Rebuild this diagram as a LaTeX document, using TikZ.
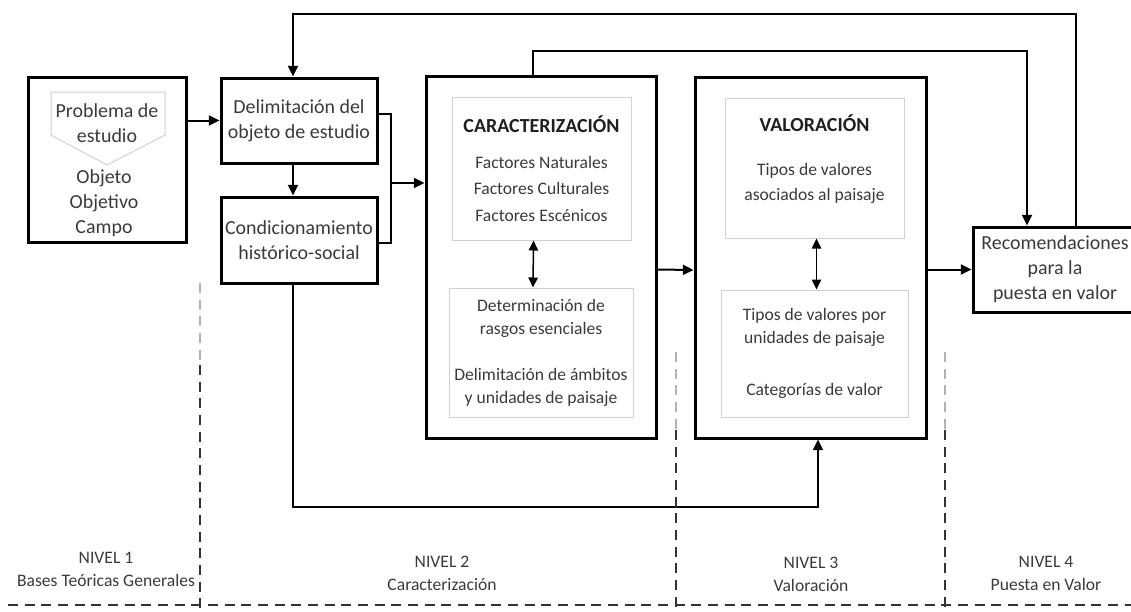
\documentclass[tikz,border=0pt]{standalone}
\usepackage{fontspec}
\setmainfont{Carlito}
\usetikzlibrary{arrows.meta,positioning,calc}
\definecolor{myText}{RGB}{58,58,58}
\definecolor{myFrame}{RGB}{208,208,208}
\newcommand{\boxhead}[1]{{\fontsize{17}{21.3}\selectfont\bfseries\color{black!88}#1}}
\tikzset{
	otext/.style={
		align=center,
		inner sep=0pt,
		text=myText,
		font=\fontsize{17}{21.3}\selectfont
	},
	obox/.style={otext, draw=black, line width=0.09cm},
	ibox/.style={
		draw=myFrame,
		line width=0.03cm,
		align=center,
		inner sep=0pt,
		text=myText,
		font=\fontsize{15}{19.6}\selectfont
	},
	level/.style={align=center, text=myText, font=\fontsize{15}{19.6}\selectfont},
	oline/.style={line width=0.06cm},
	oarr/.style={-{Triangle[length=0.32cm,width=0.3cm]}, line width=0.06cm},
	darr/.style={{Triangle[length=0.3cm,width=0.28cm]}-{Triangle[length=0.3cm,width=0.28cm]}, line width=0.045cm},
	divider/.style={dash pattern=on 0.3cm off 0.2cm, line width=0.06cm}
}
\begin{document}
\begin{tikzpicture}[x=0.03cm, y=-0.03cm]
		\useasboundingbox (0,0) rectangle (1131,611);
		% nivel 1
		\node[obox, minimum width=4.71cm, minimum height=4.95cm] (A) at (107.5,159.5) {};
		\draw[myFrame, line width=0.03cm] (51,92) -- (165,92) -- (165,135) -- (107,165) -- (51,135) -- cycle;
		\node[otext] (prob) at (107,123) {Problema de\\estudio};
		\node[otext] (obj) at (104,203) {Objeto\\Objetivo\\Campo};
		% nivel 2
		\node[obox, minimum width=4.68cm, minimum height=2.55cm] (B) at (299,120.5)
			{Delimitación del\\objeto de estudio};
		\node[obox, minimum width=4.68cm, minimum height=2.58cm] (C) at (299,240)
			{Condicionamiento\\histórico-social};
		\node[obox, minimum width=6.9cm, minimum height=10.83cm] (CAR) at (541,257.5) {};
		\node[ibox, minimum width=5.37cm, minimum height=4.29cm, font=\fontsize{15}{22.6}\selectfont] (CAR1) at (541.5,168.5)
			{\boxhead{CARACTERIZACIÓN}\\[0.285cm]Factores Naturales\\Factores Culturales\\Factores Escénicos};
		\node[ibox, minimum width=5.52cm, minimum height=3.87cm] (CAR2) at (541,352.5)
			{Determinación de\\rasgos esenciales\\[0.69cm]Delimitación de ámbitos\\y unidades de paisaje};
		% nivel 3
		\node[obox, minimum width=6.93cm, minimum height=10.8cm] (VAL) at (810.5,258) {};
		\node[ibox, minimum width=5.37cm, minimum height=4.2cm, font=\fontsize{15}{21.3}\selectfont] (VAL1) at (814.5,168)
			{\boxhead{VALORACIÓN}\\[0.57cm]Tipos de valores\\asociados al paisaje\\[-0.12cm]\mbox{}};
		\node[ibox, minimum width=5.61cm, minimum height=3.81cm] (VAL2) at (814.5,353.5)
			{Tipos de valores por\\unidades de paisaje\\[0.87cm]Categorías de valor};
		% nivel 4
		\node[obox, minimum width=4.92cm, minimum height=2.55cm] (REC) at (1055,269.5)
			{Recomendaciones\\para la\\puesta en valor};
		% conectores
		\coordinate (bx) at (293,0);
		\coordinate (brk) at (391,183);
		\coordinate (fb1) at (1076,14);
		\coordinate (fb2) at (533,51);
		\coordinate (fb2e) at (1027,51);
		\coordinate (fb3) at (818,507);
		\draw[oarr] (A.east |- B.west) -- (B.west);
		\draw[oarr] (bx |- B.south) -- (bx |- C.north);
		\draw[oline] ($(B.east)+(0,-7)$) -| (brk) |- ($(C.east)+(0,3)$);
		\draw[oarr] (brk) -- (brk -| CAR.west);
		\draw[darr] ($(CAR1.south)+(-8,0)$) -- ($(CAR2.north)+(-8,0)$);
		\draw[oarr] ($(CAR.east)+(0,12)$) -- ($(VAL.west)+(0,12)$);
		\draw[darr] ($(VAL1.south)+(2,0)$) -- ($(VAL2.north)+(2,0)$);
		\draw[oarr] (VAL.east |- REC.west) -- (REC.west);
		\draw[oarr] (fb1 |- REC.north) -- (fb1) -| (bx |- B.north);
		\draw[oarr] (fb2 |- CAR.north) -- (fb2) -- (fb2e) -- (fb2e |- REC.north);
		\draw[oarr] (bx |- C.south) -- (bx |- fb3) -- (fb3) -- (fb3 |- VAL.south);
		% niveles
		\draw[divider, black!80] (8,605) -- (1131,605);
		\draw[divider, black!30] (200,283) -- (200,365);
		\draw[divider, black!80] (200,365) -- (200,611);
		\draw[divider, black!30] (676,352) -- (676,430);
		\draw[divider, black!80] (676,430) -- (676,611);
		\draw[divider, black!30] (945,352) -- (945,430);
		\draw[divider, black!80] (945,430) -- (945,611);
		\node[level] (N1) at (106,569.5) {NIVEL 1\\Bases Teóricas Generales};
		\node[level] (N2) at (442,573.5) {NIVEL 2\\Caracterización};
		\node[level] (N3) at (811,574) {NIVEL 3\\Valoración};
		\node[level] (N4) at (1046,573.5) {NIVEL 4\\Puesta en Valor};
	\end{tikzpicture}
\end{document}
